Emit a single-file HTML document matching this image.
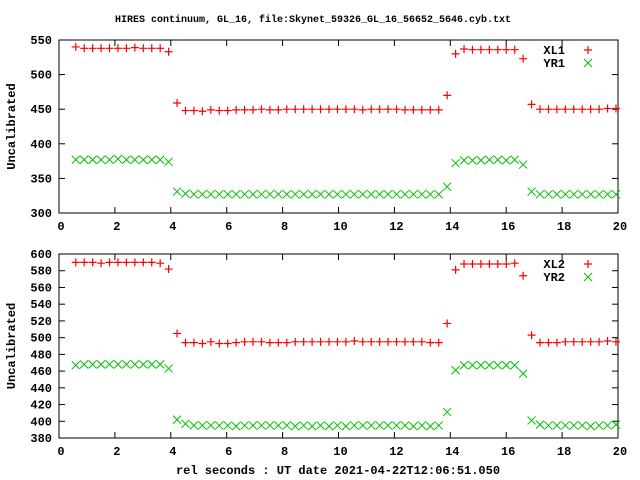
<!DOCTYPE html>
<html><head><meta charset="utf-8"><style>
body{margin:0;background:#fff;}
svg{display:block;font-family:"Liberation Mono",monospace;font-weight:bold;font-size:12px;}
</style></head><body>
<svg id="c" width="640" height="480" xmlns="http://www.w3.org/2000/svg">
<text x="313" y="22" text-anchor="middle" font-size="10">HIRES continuum, GL_16, file:Skynet_59326_GL_16_56652_5646.cyb.txt</text>
<text x="338" y="474" text-anchor="middle">rel seconds : UT date 2021-04-22T12:06:51.050</text>
<g id="p1"></g>
<g id="p2"></g>
</svg>
<script>
const times=[];for(let i=0;i<65;i++)times.push(+(0.6+0.302*i).toFixed(3));
const xl1=[540,538,538,538,538,538,538,539,538,538,538,533,459,448,448,447,449,448,448,449,449,449,450,449,449,450,450,450,450,450,450,450,450,450,449,450,450,450,450,449,449,449,449,449,470,530,537,536,536,536,536,536,536,523,457,450,450,450,450,450,450,450,450,451,451];
const yr1=[377,377,377,377,377,378,377,377,377,377,377,374,331,328,327,327,327,327,327,327,327,327,327,327,327,327,327,327,327,327,327,327,327,327,327,327,327,327,327,327,327,327,327,327,338,372,376,376,376,377,377,376,377,370,331,327,327,327,327,327,327,327,327,327,327];
const xl2=[590,590,590,589,590,590,590,590,590,590,589,582,505,494,494,493,495,493,493,494,495,495,495,494,494,494,495,495,495,495,495,495,495,496,495,495,495,495,495,495,495,495,494,494,517,581,588,588,588,588,588,588,589,574,503,494,494,494,495,495,495,495,495,496,495];
const yr2=[467,468,468,468,468,468,468,468,468,468,468,463,402,397,395,395,395,395,395,394,395,395,395,395,395,395,394,395,394,395,394,395,394,395,395,395,395,395,395,395,394,395,394,395,411,461,467,467,467,467,467,467,467,457,401,396,395,395,395,395,395,394,395,395,396];
const xTicks=[0,2,4,6,8,10,12,14,16,18,20];
const y1Ticks=[300,350,400,450,500,550];
const y2Ticks=[380,400,420,440,460,480,500,520,540,560,580,600];
const NS="http://www.w3.org/2000/svg";
const X0=59,X1=618;
const sx=v=>X0+(v-0)/(20-0)*(X1-X0);
function mk(g,tag,a){const e=document.createElementNS(NS,tag);for(const k in a)e.setAttribute(k,a[k]);g.appendChild(e);return e;}
function panel(gid,top,bot,ymin,ymax,yt,s1,s2,n1,n2){
 const g=document.getElementById(gid);
 const sy=v=>bot-(v-ymin)/(ymax-ymin)*(bot-top);
 const fr=mk(g,'rect',{x:X0,y:top,width:X1-X0,height:bot-top,fill:'none',stroke:'#000','stroke-width':1});
 
 
 xTicks.forEach(t=>{const x=sx(t);
  mk(g,'line',{x1:x,y1:bot,x2:x,y2:bot-6,stroke:'#000'});
  mk(g,'line',{x1:x,y1:top,x2:x,y2:top+6,stroke:'#000'});
  const tx=mk(g,'text',{x:x+2,y:bot+17,'text-anchor':'middle'});tx.textContent=t;
  
  });
 yt.forEach(t=>{const y=sy(t);
  mk(g,'line',{x1:X0,y1:y,x2:X0+6,y2:y,stroke:'#000'});
  mk(g,'line',{x1:X1,y1:y,x2:X1-6,y2:y,stroke:'#000'});
  const tx=mk(g,'text',{x:X0-7,y:y+4,'text-anchor':'end'});tx.textContent=t;
  
  });
 const yl=mk(g,'text',{x:0,y:0,transform:`translate(15,${(top+bot)/2}) rotate(-90)`,'text-anchor':'middle'});yl.textContent='Uncalibrated';
 
 
 const plus=(x,y)=>{mk(g,'path',{d:`M${x-4} ${y}h8M${x} ${y-4}v8`,stroke:'#f00','stroke-width':1.2,fill:'none'});};
 const cross=(x,y)=>{mk(g,'path',{d:`M${x-4} ${y-4}l8 8M${x-4} ${y+4}l8 -8`,stroke:'#00c000','stroke-width':1,fill:'none'});};
 times.forEach((t,i)=>{plus(sx(t),sy(s1[i]));cross(sx(t),sy(s2[i]));});
 const l1=mk(g,'text',{x:565,y:top+14,'text-anchor':'end'});l1.textContent=n1;
 
 
 const l2=mk(g,'text',{x:565,y:top+27,'text-anchor':'end'});l2.textContent=n2;
 
 
 plus(588,top+10);cross(588,top+23);
}
panel('p1',40,213,300,550,y1Ticks,xl1,yr1,'XL1','YR1');
panel('p2',254,438,380,600,y2Ticks,xl2,yr2,'XL2','YR2');
</script>
</body></html>
